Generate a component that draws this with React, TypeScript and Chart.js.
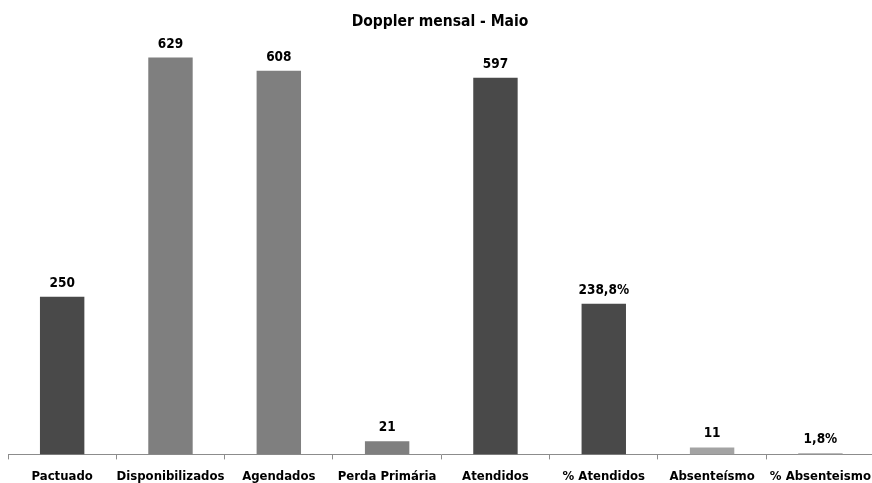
import React, { useEffect, useRef } from "react";
import { Chart, registerables } from "chart.js";

Chart.register(...registerables);

const title = "Doppler mensal - Maio";
const categories = [
  "Pactuado",
  "Disponibilizados",
  "Agendados",
  "Perda Primária",
  "Atendidos",
  "% Atendidos",
  "Absenteísmo",
  "% Absenteismo",
];
const values = [250, 629, 608, 21, 597, 238.8, 11, 1.8];
const valueLabels = ["250", "629", "608", "21", "597", "238,8%", "11", "1,8%"];
const barColors = [
  "#494949",
  "#7f7f7f",
  "#7f7f7f",
  "#7f7f7f",
  "#494949",
  "#494949",
  "#a3a3a3",
  "#a3a3a3",
];

const FONT = "'DejaVu Sans Condensed', 'Liberation Sans Narrow', Arial, sans-serif";

const labelPlugin = {
  id: "valueLabels",
  afterDatasetsDraw(chart: any) {
    const ctx = chart.ctx;
    const meta = chart.getDatasetMeta(0);
    ctx.save();
    ctx.fillStyle = "#000";
    ctx.font = `bold 13.5px ${FONT}`;
    ctx.textAlign = "center";
    ctx.textBaseline = "alphabetic";
    meta.data.forEach((bar: any, i: number) => {
      ctx.fillText(valueLabels[i], bar.x, bar.y - 10);
    });
    ctx.font = `bold 15.5px ${FONT}`;
    ctx.fillText(title, 872 / 2 + 4, 25.5);
    ctx.restore();
  },
};

export default function App() {
  const ref = useRef<HTMLCanvasElement | null>(null);
  useEffect(() => {
    document.body.style.margin = "0";
    const chart = new Chart(ref.current!, {
      type: "bar",
      data: {
        labels: categories,
        datasets: [
          {
            data: values,
            backgroundColor: barColors,
            categoryPercentage: 1,
            barPercentage: 0.41,
          },
        ],
      },
      options: {
        animation: false,
        responsive: false,
        layout: { padding: { top: 38, left: 8, right: 0, bottom: 0 } },
        plugins: { legend: { display: false }, title: { display: false }, tooltip: { enabled: false } },
        scales: {
          y: { display: false, min: 0, max: 660 },
          x: {
            offset: true,
            border: { display: true, color: "#8c8c8c", width: 1 },
            grid: { display: true, drawOnChartArea: false, tickLength: 5, color: "#8c8c8c", offset: true },
            ticks: {
              color: "#000",
              font: { family: FONT, size: 13, weight: "bold" },
              padding: 9,
              maxRotation: 0,
              autoSkip: false,
            },
          },
        },
      },
      plugins: [labelPlugin],
    });
    return () => chart.destroy();
  }, []);
  return (
    <div style={{ width: 872, height: 483, background: "#fff", overflow: "hidden" }}>
      <canvas ref={ref} width={880} height={493} />
    </div>
  );
}
